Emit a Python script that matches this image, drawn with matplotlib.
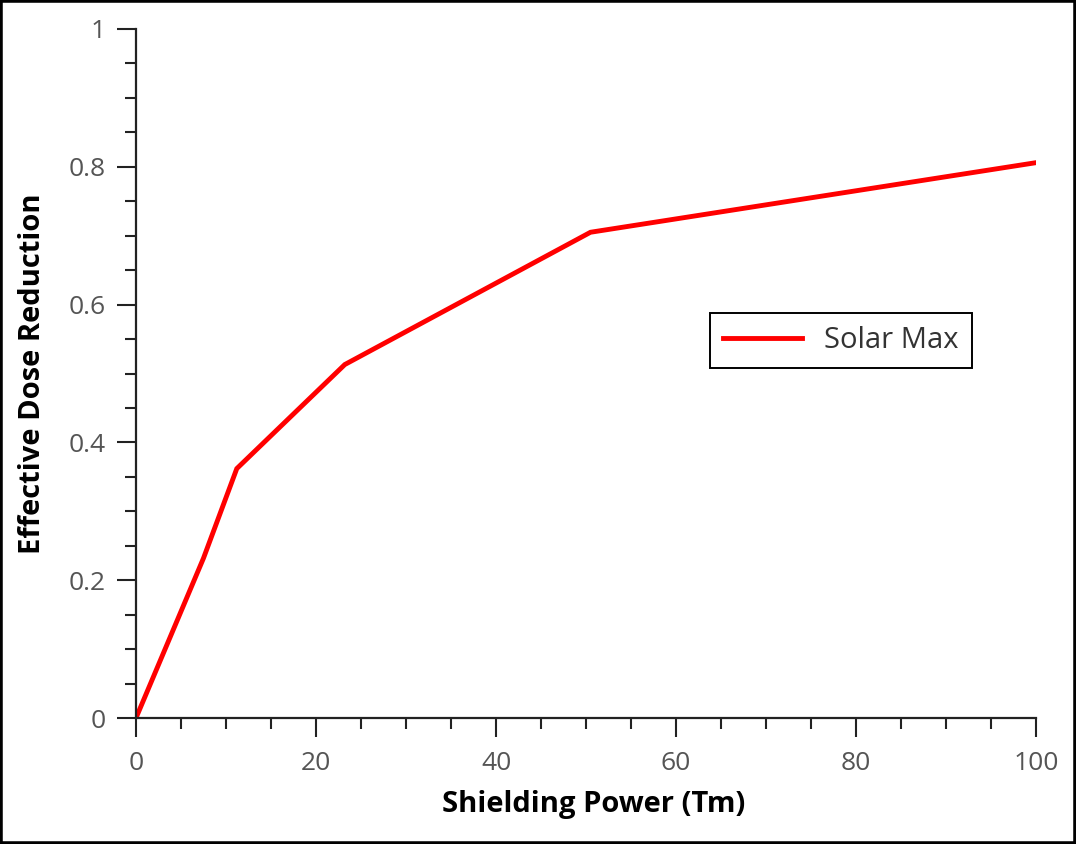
import matplotlib
matplotlib.use("Agg")
import matplotlib.pyplot as plt
from matplotlib.patches import Rectangle
from matplotlib.ticker import MultipleLocator, FormatStrFormatter

# ---------- Данные ----------
shielding_power = [0, 7.5, 11.2, 23.2, 50.5, 100]
dose_reduction = [0, 0.232, 0.362, 0.513, 0.705, 0.806]
series_label = "Solar Max"
x_label = "Shielding Power (Tm)"
y_label = "Effective Dose Reduction"

plt.rcParams['font.family'] = ['Open Sans', 'DejaVu Sans']

fig = plt.figure(figsize=(10.76, 8.44), dpi=100)
ax = fig.add_axes([136 / 1076, 1 - 718 / 844, 900 / 1076, 689 / 844])

ax.plot(shielding_power, dose_reduction, color="red", linewidth=3.5,
        label=series_label, solid_joinstyle="miter")

ax.set_xlim(0, 100)
ax.set_ylim(0, 1)

# Оси и деления
for side in ("top", "right"):
    ax.spines[side].set_visible(False)
for side in ("left", "bottom"):
    ax.spines[side].set_linewidth(1.6)
    ax.spines[side].set_color("#222222")

ax.xaxis.set_major_locator(MultipleLocator(20))
ax.xaxis.set_minor_locator(MultipleLocator(5))
ax.yaxis.set_major_locator(MultipleLocator(0.2))
ax.yaxis.set_minor_locator(MultipleLocator(0.05))
ax.yaxis.set_major_formatter(FormatStrFormatter("%g"))
ax.xaxis.set_major_formatter(FormatStrFormatter("%g"))

ax.tick_params(which="major", direction="out", length=14, width=1.5,
               color="#222222", labelsize=19, labelcolor="#555555")
ax.tick_params(which="minor", direction="out", length=8, width=1.5, color="#222222")
ax.tick_params(axis="x", which="major", pad=10)
ax.tick_params(axis="y", which="major", pad=8)

ax.set_xlabel(x_label, fontsize=21, fontweight="bold", labelpad=11)
ax.xaxis.set_label_coords(0.509, -0.105)
ax.set_ylabel(y_label, fontsize=21, fontweight="bold", labelpad=15)

leg = ax.legend(loc="upper left", bbox_to_anchor=(0.638, 0.588), fontsize=21,
                fancybox=False, edgecolor="black", framealpha=1,
                handlelength=2.7, handletextpad=0.75, borderpad=0.45,
                borderaxespad=0)
leg.get_frame().set_linewidth(1.4)
for t in leg.get_texts():
    t.set_color("#333333")

# Рамка вокруг рисунка
fig.patches.append(Rectangle((0, 0), 1, 1, transform=fig.transFigure,
                             fill=False, edgecolor="black", linewidth=4))

fig.savefig("out.png", dpi=100)
